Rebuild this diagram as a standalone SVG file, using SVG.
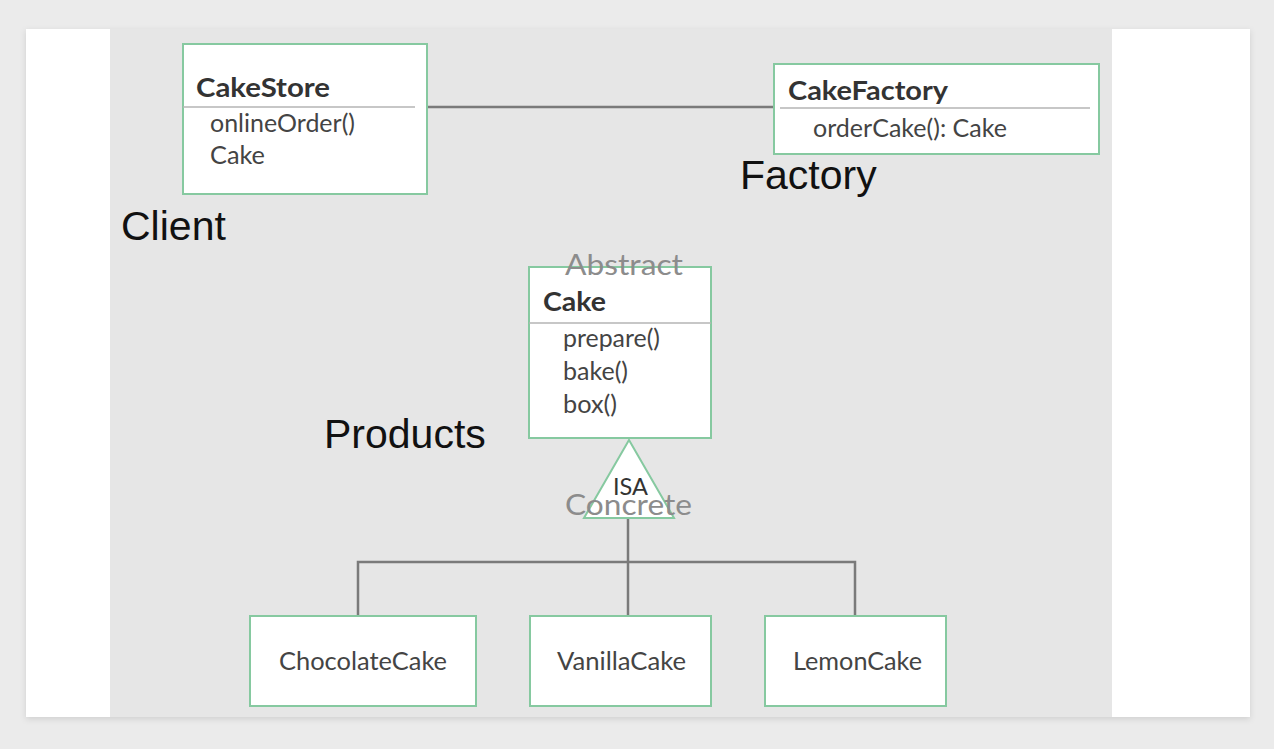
<svg xmlns="http://www.w3.org/2000/svg" width="1274" height="749" viewBox="0 0 1274 749">
<defs>
<filter id="sh" x="-5%" y="-5%" width="110%" height="110%">
<feDropShadow dx="0" dy="2" stdDeviation="3" flood-color="#000" flood-opacity="0.12"/>
</filter>
</defs>
<style>
.box{fill:#fff;stroke:#86c9a0;stroke-width:2}
.sep{stroke:#b4b4b4;stroke-width:1.5}
.conn{stroke:#7a7a7a;stroke-width:2.5;fill:none}
.title{font-family:Lato,"Open Sans",sans-serif;font-weight:bold;font-size:27px;fill:#333}
.body{font-family:Lato,"Open Sans",sans-serif;font-size:25px;fill:#444}
.lbl{font-family:"Liberation Sans",Arial,sans-serif;font-size:41px;fill:#111}
.gray{font-family:Lato,"Open Sans",sans-serif;font-size:28px;fill:#8c8c8c}
</style>
<rect x="0" y="0" width="1274" height="749" fill="#ebebeb"/>
<rect x="26" y="29" width="1224" height="688" fill="#fff" filter="url(#sh)"/>
<rect x="110" y="29" width="1002" height="688" fill="#e6e6e6"/>

<g id="connectors">
<line class="conn" x1="427" y1="107" x2="774" y2="107"/>
<line class="conn" x1="628" y1="518" x2="628" y2="616"/>
<polyline class="conn" points="358,616 358,562 855,562 855,616"/>
</g>

<g id="cakestore">
<rect class="box" x="183" y="44" width="244" height="150"/>
<line class="sep" x1="183" y1="107" x2="415" y2="107"/>
<text class="title" x="196" y="97" textLength="134" lengthAdjust="spacingAndGlyphs">CakeStore</text>
<text class="body" x="210" y="132" textLength="145" lengthAdjust="spacingAndGlyphs">onlineOrder()</text>
<text class="body" x="210" y="164" textLength="55" lengthAdjust="spacingAndGlyphs">Cake</text>
</g>

<g id="cakefactory">
<rect class="box" x="774" y="64" width="325" height="90"/>
<line class="sep" x1="780" y1="108" x2="1090" y2="108"/>
<text class="title" x="788" y="100" textLength="160" lengthAdjust="spacingAndGlyphs">CakeFactory</text>
<text class="body" x="813" y="137" textLength="194" lengthAdjust="spacingAndGlyphs">orderCake(): Cake</text>
</g>

<g id="cake">
<rect class="box" x="529" y="267" width="182" height="171"/>
<line class="sep" x1="529" y1="323" x2="711" y2="323"/>
<text class="title" x="543" y="311" textLength="63" lengthAdjust="spacingAndGlyphs">Cake</text>
<text class="body" x="563" y="347" textLength="97" lengthAdjust="spacingAndGlyphs">prepare()</text>
<text class="body" x="563" y="380" textLength="65" lengthAdjust="spacingAndGlyphs">bake()</text>
<text class="body" x="563" y="413" textLength="54" lengthAdjust="spacingAndGlyphs">box()</text>
<text class="gray" x="565" y="275" textLength="118" lengthAdjust="spacingAndGlyphs">Abstract</text>
</g>

<g id="isa">
<polygon class="box" points="629,440 584,518 674,518"/>
<text class="body" x="613" y="495" textLength="35" lengthAdjust="spacingAndGlyphs" style="font-size:23px;fill:#333">ISA</text>
<text class="gray" x="565" y="515" textLength="127" lengthAdjust="spacingAndGlyphs">Concrete</text>
</g>

<g id="chocolatecake">
<rect class="box" x="250" y="616" width="226" height="90"/>
<text class="body" x="279" y="670" textLength="168" lengthAdjust="spacingAndGlyphs">ChocolateCake</text>
</g>
<g id="vanillacake">
<rect class="box" x="530" y="616" width="181" height="90"/>
<text class="body" x="557" y="670" textLength="129" lengthAdjust="spacingAndGlyphs">VanillaCake</text>
</g>
<g id="lemoncake">
<rect class="box" x="765" y="616" width="181" height="90"/>
<text class="body" x="793" y="670" textLength="129" lengthAdjust="spacingAndGlyphs">LemonCake</text>
</g>

<g id="labels">
<text class="lbl" x="121" y="240">Client</text>
<text class="lbl" x="740" y="189">Factory</text>
<text class="lbl" x="324" y="448">Products</text>
</g>
</svg>
